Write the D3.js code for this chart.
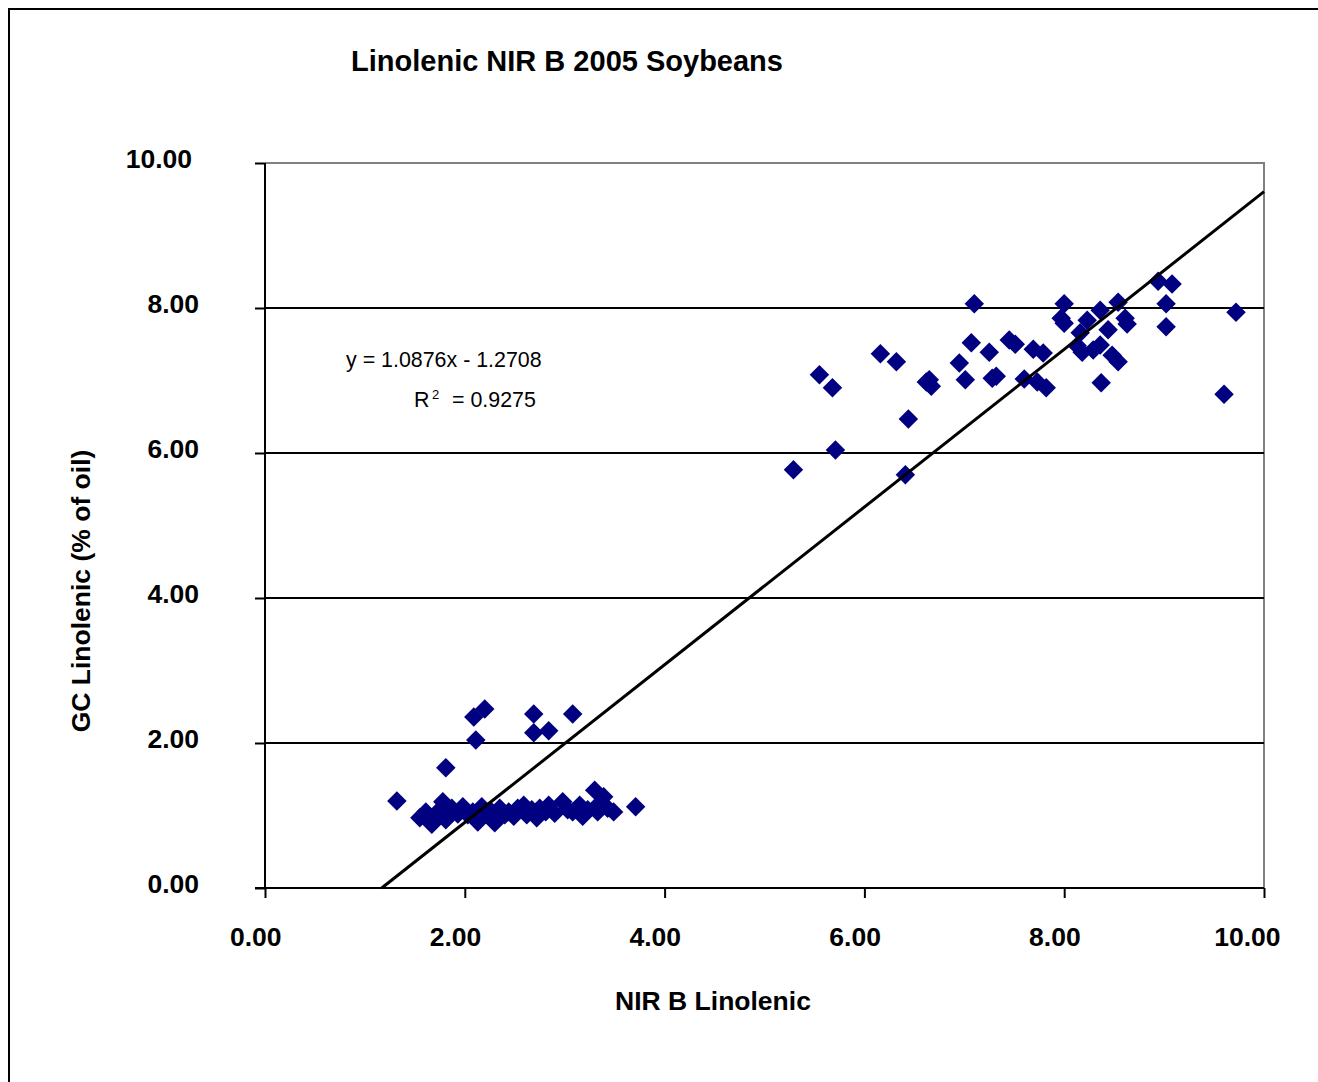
<!DOCTYPE html>
<html>
<head>
<meta charset="utf-8">
<script src="https://cdn.jsdelivr.net/npm/d3@7"></script>
<style>
  body { margin: 0; background: #fff; }
  svg text { font-family: "Liberation Sans", Arial, sans-serif; fill: #000; }
</style>
</head>
<body>
<svg id="chart" width="1318" height="1082"></svg>
<script>
// NIR B linolenic (x) vs GC linolenic (y)
var nirB = [
  // high linolenic group
  5.29, 5.55, 5.68, 5.71, 6.16, 6.32, 6.41, 6.44, 6.62, 6.67, 6.65, 6.95, 7.01, 7.07, 7.10,
  7.25, 7.28, 7.32, 7.45, 7.51, 7.60, 7.69, 7.73, 7.79, 7.82, 8.00, 7.97, 8.00, 8.16, 8.18,
  8.23, 8.29, 8.36, 8.36, 8.37, 8.44, 8.48, 8.54, 8.54, 8.61, 8.63, 8.94, 9.08, 9.02, 9.02,
  9.60, 9.72, 8.13,
  // low linolenic outliers
  1.32, 1.81, 2.09, 2.20, 2.11, 2.69, 2.69, 2.84, 3.08, 3.71,
  // low linolenic band
  1.55, 1.61, 1.67, 1.72, 1.75, 1.78, 1.81, 1.87, 1.93, 1.98, 2.03, 2.08, 2.13, 2.17, 2.23,
  2.27, 2.30, 2.35, 2.40, 2.44, 2.49, 2.53, 2.59, 2.62, 2.67, 2.72, 2.75, 2.81, 2.84, 2.90,
  2.98, 3.03, 3.08, 3.15, 3.18, 3.23, 3.30, 3.33, 3.35, 3.39, 3.43, 3.49
];
var gcLin = [
  5.77, 7.08, 6.90, 6.04, 7.37, 7.26, 5.70, 6.47, 6.98, 6.92, 7.01, 7.24, 7.01, 7.52, 8.06,
  7.39, 7.03, 7.06, 7.56, 7.50, 7.02, 7.43, 6.98, 7.38, 6.90, 8.06, 7.86, 7.79, 7.66, 7.39,
  7.83, 7.42, 7.49, 7.97, 6.97, 7.70, 7.35, 7.26, 8.08, 7.86, 7.78, 8.37, 8.33, 8.06, 7.74,
  6.81, 7.94, 7.48,
  1.20, 1.66, 2.36, 2.47, 2.04, 2.40, 2.14, 2.17, 2.40, 1.12,
  0.97, 1.05, 0.88, 0.97, 1.08, 1.19, 0.94, 1.10, 1.02, 1.12, 1.01, 1.05, 0.91, 1.12, 1.01,
  1.05, 0.90, 1.10, 1.01, 1.05, 0.99, 1.10, 1.14, 1.01, 1.08, 0.97, 1.10, 1.05, 1.14, 1.03,
  1.19, 1.08, 1.05, 1.14, 0.99, 1.08, 1.35, 1.05, 1.17, 1.26, 1.10, 1.05
];
var xTicks = [0, 2, 4, 6, 8, 10];
var yTicks = [0, 2, 4, 6, 8, 10];
var trendSlope = 1.0876, trendIntercept = -1.2708;
var rSquared = "0.9275";

var svg = d3.select("#chart");

var x = d3.scaleLinear().domain([0, 10]).range([265, 1264]);
var y = d3.scaleLinear().domain([0, 10]).range([888, 163]);

// outer frame
svg.append("rect")
  .attr("x", 9).attr("y", 9)
  .attr("width", 1400).attr("height", 1200)
  .attr("fill", "#fff").attr("stroke", "#000").attr("stroke-width", 2);

// title
svg.append("text")
  .attr("x", 567).attr("y", 71)
  .attr("text-anchor", "middle")
  .style("font-size", "29px").style("font-weight", "bold")
  .text("Linolenic NIR B 2005 Soybeans");

// plot area border (grey top and right)
svg.append("path")
  .attr("d", "M" + x(0) + "," + y(10) + "H" + x(10) + "V" + y(0))
  .attr("fill", "none").attr("stroke", "#808080").attr("stroke-width", 2);

// gridlines
svg.append("g").selectAll("line")
  .data(yTicks.filter(function(d) { return d > 0 && d < 10; }))
  .enter().append("line")
    .attr("x1", x(0)).attr("x2", x(10))
    .attr("y1", function(d) { return y(d); })
    .attr("y2", function(d) { return y(d); })
    .attr("stroke", "#000").attr("stroke-width", 2);

// axes
var yAxis = svg.append("g")
  .attr("transform", "translate(" + x(0) + ",0)")
  .call(d3.axisLeft(y).tickValues(yTicks).tickSize(10).tickPadding(56)
    .tickFormat(d3.format(".2f")));
var xAxis = svg.append("g")
  .attr("transform", "translate(0," + y(0) + ")")
  .call(d3.axisBottom(x).tickValues(xTicks).tickSize(10)
    .tickFormat(d3.format(".2f")));

[yAxis, xAxis].forEach(function(a) {
  a.select(".domain").remove();
  a.selectAll(".tick line").attr("stroke", "#000").attr("stroke-width", 2);
  a.selectAll("text")
    .style("font-size", "26.5px").style("font-weight", "bold")
    .attr("fill", "#000");
});
yAxis.selectAll("text").attr("dy", "0.32em").attr("y", -4)
  .attr("dx", function(d) { return d >= 10 ? -7 : 0; });
xAxis.selectAll("text")
  .attr("text-anchor", "end").attr("x", 16).attr("y", 58).attr("dy", 0);

svg.append("line")
  .attr("x1", x(0)).attr("x2", x(0)).attr("y1", y(10)).attr("y2", y(0))
  .attr("stroke", "#000").attr("stroke-width", 2);
svg.append("line")
  .attr("x1", x(0) - 10).attr("x2", x(10)).attr("y1", y(0)).attr("y2", y(0))
  .attr("stroke", "#000").attr("stroke-width", 2);

// axis titles
svg.append("text")
  .attr("x", 713).attr("y", 1010)
  .attr("text-anchor", "middle")
  .style("font-size", "26.5px").style("font-weight", "bold")
  .text("NIR B Linolenic");
svg.append("text")
  .attr("transform", "translate(90,591) rotate(-90)")
  .attr("text-anchor", "middle")
  .style("font-size", "26.5px").style("font-weight", "bold")
  .text("GC Linolenic (% of oil)");

// points
var points = nirB.map(function(v, i) { return { x: v, y: gcLin[i] }; });
var diamond = d3.symbol().type(d3.symbolSquare).size(190);
svg.append("g").selectAll("path")
  .data(points)
  .enter().append("path")
    .attr("d", diamond)
    .attr("transform", function(d) {
      return "translate(" + x(d.x) + "," + y(d.y) + ") rotate(45)";
    })
    .attr("fill", "#000080");

// linear trendline
var xStart = -trendIntercept / trendSlope;
svg.append("line")
  .attr("x1", x(xStart)).attr("y1", y(0))
  .attr("x2", x(10)).attr("y2", y(trendSlope * 10 + trendIntercept))
  .attr("stroke", "#000").attr("stroke-width", 3);

// equation label
var eq = svg.append("g").style("font-size", "21.4px");
eq.append("text").attr("x", 346).attr("y", 367)
  .text("y = " + trendSlope + "x - " + Math.abs(trendIntercept));
eq.append("text").attr("x", 414).attr("y", 407).text("R");
eq.append("text").attr("x", 432).attr("y", 399).style("font-size", "13px").text("2");
eq.append("text").attr("x", 452).attr("y", 407).text("= " + rSquared);
</script>
</body>
</html>
